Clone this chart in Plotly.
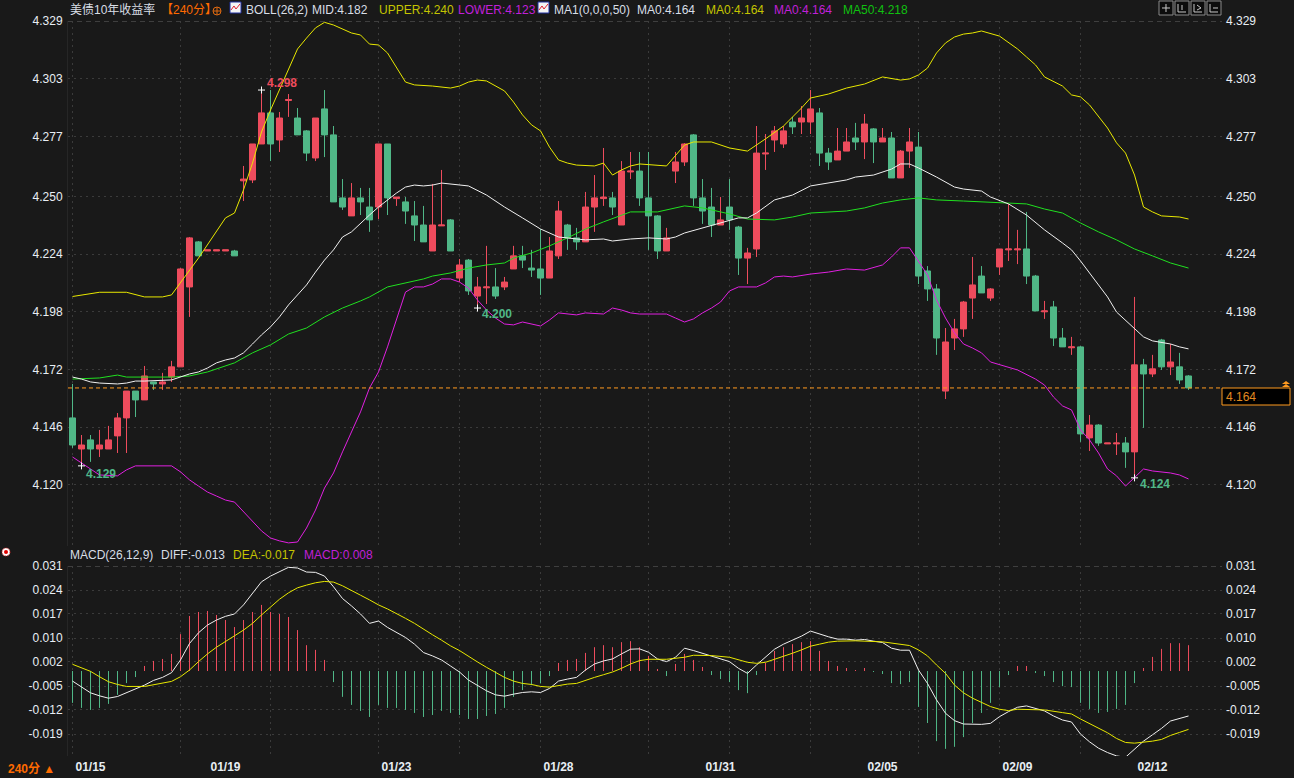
import plotly.graph_objects as go

WIDTH = 1294
HEIGHT = 778

BG = '#191919'
RED = '#ee4c5d'
GREEN = '#50b787'
GRID = '#3b3b3b'
ORANGE = '#ff9a1f'
AXIS_TEXT = '#e8eef4'

OPEN = [4.1502, 4.1362, 4.1403, 4.1362, 4.1362, 4.1421, 4.1502, 4.1623, 4.1583, 4.1664,
        4.1655, 4.1686, 4.1732, 4.2092, 4.2295, 4.2254, 4.2254, 4.2254, 4.2254, 4.2570,
        4.2574, 4.2736, 4.2876, 4.2754, 4.2932, 4.2853, 4.2795, 4.2673, 4.2894, 4.2777,
        4.2493, 4.2412, 4.2493, 4.2452, 4.2452, 4.2736, 4.2490, 4.2475, 4.2412, 4.2371,
        4.2254, 4.2367, 4.2394, 4.2132, 4.2213, 4.2051, 4.2088, 4.2092, 4.2092, 4.2173,
        4.2232, 4.2177, 4.2173, 4.2132, 4.2232, 4.2371, 4.2313, 4.2295, 4.2452, 4.2490,
        4.2493, 4.2371, 4.2610, 4.2614, 4.2493, 4.2412, 4.2254, 4.2614, 4.2655, 4.2777,
        4.2493, 4.2452, 4.2371, 4.2452, 4.2362, 4.2222, 4.2263, 4.2691, 4.2754, 4.2736,
        4.2835, 4.2835, 4.2835, 4.2876, 4.2695, 4.2664, 4.2704, 4.2763, 4.2745, 4.2804,
        4.2745, 4.2763, 4.2583, 4.2704, 4.2722, 4.2164, 4.2083, 4.1623, 4.1862, 4.1903,
        4.2042, 4.2141, 4.2042, 4.2182, 4.2259, 4.2259, 4.2263, 4.2141, 4.1980, 4.2002,
        4.1862, 4.1818, 4.1822, 4.1412, 4.1470, 4.1385, 4.1385, 4.1389, 4.1349, 4.1741,
        4.1700, 4.1853, 4.1732, 4.1732, 4.1691]
HIGH = [4.1655, 4.1425, 4.1425, 4.1448, 4.1466, 4.1524, 4.1623, 4.1623, 4.1736, 4.1664,
        4.1705, 4.1759, 4.2177, 4.2317, 4.2299, 4.2259, 4.2259, 4.2259, 4.2259, 4.2637,
        4.2736, 4.2979, 4.2979, 4.2880, 4.2961, 4.2898, 4.2799, 4.2853, 4.2979, 4.2817,
        4.2578, 4.2560, 4.2538, 4.2538, 4.2736, 4.2736, 4.2497, 4.2497, 4.2479, 4.2457,
        4.2556, 4.2619, 4.2398, 4.2218, 4.2218, 4.2137, 4.2277, 4.2177, 4.2137, 4.2277,
        4.2277, 4.2259, 4.2353, 4.2317, 4.2479, 4.2376, 4.2358, 4.2520, 4.2596, 4.2718,
        4.2520, 4.2659, 4.2700, 4.2700, 4.2700, 4.2416, 4.2358, 4.2700, 4.2740, 4.2781,
        4.2578, 4.2538, 4.2497, 4.2578, 4.2367, 4.2268, 4.2817, 4.2781, 4.2817, 4.2817,
        4.2858, 4.2907, 4.2979, 4.2898, 4.2718, 4.2808, 4.2808, 4.2831, 4.2871, 4.2808,
        4.2808, 4.2790, 4.2709, 4.2808, 4.2790, 4.2186, 4.2105, 4.1907, 4.1948, 4.2029,
        4.2227, 4.2186, 4.2087, 4.2263, 4.2466, 4.2349, 4.2430, 4.2146, 4.2029, 4.2029,
        4.1907, 4.1867, 4.1826, 4.1515, 4.1474, 4.1389, 4.1434, 4.1416, 4.2047, 4.1768,
        4.1786, 4.1858, 4.1835, 4.1795, 4.1695]
LOW = [4.1367, 4.1286, 4.1304, 4.1326, 4.1362, 4.1344, 4.1344, 4.1506, 4.1583, 4.1628,
       4.1628, 4.1664, 4.1732, 4.1957, 4.2232, 4.2254, 4.2254, 4.2254, 4.2232, 4.2479,
       4.2560, 4.2736, 4.2659, 4.2700, 4.2858, 4.2777, 4.2659, 4.2659, 4.2677, 4.2475,
       4.2439, 4.2412, 4.2416, 4.2340, 4.2398, 4.2416, 4.2457, 4.2376, 4.2299, 4.2295,
       4.2254, 4.2367, 4.2254, 4.2114, 4.2056, 4.1997, 4.2015, 4.2038, 4.2078, 4.2173,
       4.2177, 4.2137, 4.2056, 4.2132, 4.2218, 4.2259, 4.2259, 4.2295, 4.2340, 4.2457,
       4.2416, 4.2371, 4.2578, 4.2457, 4.2259, 4.2218, 4.2254, 4.2560, 4.2637, 4.2457,
       4.2376, 4.2317, 4.2371, 4.2349, 4.2146, 4.2105, 4.2227, 4.2619, 4.2700, 4.2718,
       4.2781, 4.2781, 4.2781, 4.2637, 4.2619, 4.2664, 4.2704, 4.2709, 4.2668, 4.2650,
       4.2745, 4.2583, 4.2583, 4.2628, 4.2105, 4.2029, 4.1786, 4.1587, 4.1808, 4.1867,
       4.1948, 4.2065, 4.2029, 4.2146, 4.2209, 4.2195, 4.2105, 4.1984, 4.1948, 4.1826,
       4.1822, 4.1786, 4.1394, 4.1353, 4.1376, 4.1385, 4.1335, 4.1277, 4.1232, 4.1457,
       4.1686, 4.1718, 4.1695, 4.1655, 4.1628]
CLOSE = [4.1380, 4.1380, 4.1362, 4.1380, 4.1403, 4.1502, 4.1623, 4.1583, 4.1691, 4.1655,
         4.1664, 4.1732, 4.2173, 4.2313, 4.2232, 4.2259, 4.2259, 4.2259, 4.2232, 4.2578,
         4.2736, 4.2876, 4.2736, 4.2853, 4.2936, 4.2777, 4.2695, 4.2853, 4.2777, 4.2475,
         4.2452, 4.2493, 4.2475, 4.2394, 4.2736, 4.2493, 4.2497, 4.2434, 4.2371, 4.2295,
         4.2371, 4.2371, 4.2254, 4.2191, 4.2074, 4.2092, 4.2092, 4.2051, 4.2114, 4.2232,
         4.2213, 4.2168, 4.2132, 4.2254, 4.2434, 4.2313, 4.2295, 4.2452, 4.2493, 4.2497,
         4.2452, 4.2614, 4.2614, 4.2493, 4.2412, 4.2254, 4.2313, 4.2655, 4.2736, 4.2493,
         4.2434, 4.2371, 4.2394, 4.2394, 4.2222, 4.2245, 4.2695, 4.2695, 4.2795, 4.2795,
         4.2813, 4.2853, 4.2894, 4.2695, 4.2655, 4.2704, 4.2745, 4.2745, 4.2826, 4.2745,
         4.2763, 4.2583, 4.2704, 4.2745, 4.2141, 4.2083, 4.1862, 4.1844, 4.1903, 4.2024,
         4.2101, 4.2065, 4.2083, 4.2263, 4.2263, 4.2263, 4.2141, 4.1984, 4.1984, 4.1862,
         4.1822, 4.1822, 4.1430, 4.1470, 4.1389, 4.1389, 4.1389, 4.1349, 4.1741, 4.1700,
         4.1723, 4.1732, 4.1754, 4.1673, 4.1637]

UPPER_BARS = [0, 3, 6, 8, 10, 11, 14, 17, 18, 19, 20, 21, 22, 24, 25, 26, 27, 28, 29, 31, 32, 33, 34,
              35, 36, 37, 38, 40, 42, 43, 44, 45, 46, 47, 48, 49, 50, 51, 52, 53, 54, 55, 56, 58, 59,
              60, 61, 62, 63, 66, 67, 68, 69, 71, 73, 75, 77, 79, 81, 82, 84, 86, 88, 90, 92, 93, 94,
              95, 96, 97, 98, 99, 100, 101, 103, 104, 105, 106, 107, 108, 110, 111, 112, 113, 114,
              115, 116, 117, 118, 119, 120, 121, 123, 124]
UPPER = [4.2049, 4.2068, 4.2068, 4.2047, 4.2047, 4.2056, 4.2222, 4.2403, 4.2425, 4.2529, 4.2650, 4.2790,
         4.2889, 4.3078, 4.3164, 4.3213, 4.3259, 4.3284, 4.3272, 4.3236, 4.3227, 4.3186, 4.3182,
         4.3146, 4.3083, 4.3015, 4.3002, 4.2997, 4.2988, 4.2997, 4.3015, 4.3024, 4.3020, 4.2997,
         4.2975, 4.2925, 4.2867, 4.2822, 4.2795, 4.2722, 4.2664, 4.2650, 4.2641, 4.2637, 4.2650,
         4.2596, 4.2619, 4.2637, 4.2646, 4.2637, 4.2686, 4.2731, 4.2745, 4.2745, 4.2718, 4.2704,
         4.2759, 4.2817, 4.2898, 4.2943, 4.2961, 4.2988, 4.3006, 4.3038, 4.3024, 4.3029, 4.3047,
         4.3078, 4.3146, 4.3191, 4.3218, 4.3231, 4.3236, 4.3245, 4.3222, 4.3195, 4.3164, 4.3128,
         4.3092, 4.3038, 4.2997, 4.2957, 4.2948, 4.2912, 4.2858, 4.2808, 4.2741, 4.2695, 4.2596,
         4.2452, 4.2430, 4.2412, 4.2407, 4.2398]

LOWER_BARS = [0, 1, 2, 3, 5, 6, 7, 11, 12, 13, 14, 15, 16, 17, 18, 19, 20, 21, 22, 23, 24, 25, 26, 27,
              28, 29, 30, 31, 32, 33, 34, 35, 36, 37, 38, 39, 40, 41, 42, 43, 44, 45, 46, 47, 48, 49,
              50, 51, 52, 53, 54, 56, 57, 59, 60, 61, 62, 63, 66, 67, 68, 69, 70, 71, 72, 73, 74, 76,
              77, 78, 79, 80, 82, 84, 86, 88, 90, 91, 92, 93, 94, 95, 96, 97, 98, 99, 100, 101, 102,
              103, 105, 107, 108, 109, 110, 111, 112, 113, 114, 115, 116, 117, 118, 119, 120, 122,
              123, 124]
LOWER = [4.1326, 4.1299, 4.1272, 4.1245, 4.1241, 4.1268, 4.1286, 4.1286, 4.1259, 4.1223, 4.1195, 4.1168,
         4.1150, 4.1132, 4.1123, 4.1078, 4.1033, 4.0993, 4.0961, 4.0948, 4.0939, 4.0943, 4.1006,
         4.1087, 4.1186, 4.1254, 4.1349, 4.1439, 4.1529, 4.1637, 4.1709, 4.1822, 4.1943, 4.2069,
         4.2092, 4.2092, 4.2105, 4.2128, 4.2128, 4.2114, 4.2087, 4.2033, 4.1988, 4.1952, 4.1925,
         4.1921, 4.1934, 4.1925, 4.1916, 4.1943, 4.1975, 4.1966, 4.1975, 4.1970, 4.1997, 4.1988,
         4.1975, 4.1970, 4.1970, 4.1952, 4.1934, 4.1948, 4.1975, 4.1997, 4.2024, 4.2074, 4.2092,
         4.2092, 4.2110, 4.2137, 4.2141, 4.2137, 4.2150, 4.2159, 4.2173, 4.2168, 4.2191, 4.2227,
         4.2268, 4.2268, 4.2204, 4.2146, 4.2033, 4.1952, 4.1885, 4.1835, 4.1817, 4.1795, 4.1754,
         4.1741, 4.1718, 4.1677, 4.1650, 4.1596, 4.1556, 4.1538, 4.1448, 4.1403, 4.1344, 4.1272,
         4.1241, 4.1195, 4.1232, 4.1272, 4.1263, 4.1254, 4.1245, 4.1227]

MID_BARS = [0, 1, 2, 3, 5, 6, 7, 8, 11, 12, 13, 14, 15, 16, 17, 18, 19, 20, 21, 22, 23, 24, 25, 26, 27,
            28, 29, 30, 31, 32, 33, 34, 35, 36, 37, 38, 39, 40, 41, 42, 44, 46, 48, 50, 52, 54, 55, 57,
            59, 60, 62, 64, 66, 67, 68, 70, 72, 74, 75, 76, 78, 80, 82, 84, 86, 87, 89, 91, 92, 93,
            94, 96, 98, 99, 101, 102, 104, 106, 108, 110, 111, 112, 113, 114, 115, 116, 117, 118,
            119, 120, 122, 123, 124]
MID = [4.1686, 4.1677, 4.1664, 4.1659, 4.1655, 4.1659, 4.1668, 4.1668, 4.1673, 4.1686, 4.1700, 4.1709,
       4.1727, 4.1750, 4.1763, 4.1772, 4.1795, 4.1835, 4.1876, 4.1912, 4.1957, 4.2011, 4.2056,
       4.2101, 4.2159, 4.2213, 4.2259, 4.2317, 4.2340, 4.2380, 4.2416, 4.2452, 4.2484, 4.2515,
       4.2542, 4.2551, 4.2547, 4.2551, 4.2560, 4.2556, 4.2547, 4.2506, 4.2452, 4.2403, 4.2353,
       4.2317, 4.2313, 4.2304, 4.2308, 4.2299, 4.2308, 4.2313, 4.2308, 4.2317, 4.2335, 4.2358,
       4.2380, 4.2403, 4.2403, 4.2425, 4.2484, 4.2506, 4.2547, 4.2560, 4.2574, 4.2587, 4.2596,
       4.2623, 4.2646, 4.2646, 4.2628, 4.2587, 4.2542, 4.2533, 4.2524, 4.2497, 4.2466, 4.2416,
       4.2349, 4.2290, 4.2259, 4.2209, 4.2155, 4.2101, 4.2047, 4.1979, 4.1943, 4.1907, 4.1867,
       4.1849, 4.1835, 4.1822, 4.1813]

MA50_BARS = [0, 3, 5, 6, 11, 13, 15, 17, 18, 20, 22, 24, 26, 28, 30, 32, 33, 35, 37, 39, 40, 42, 44, 46,
             48, 49, 51, 53, 55, 57, 59, 61, 62, 65, 68, 70, 73, 75, 78, 80, 82, 86, 88, 90, 92, 94,
             96, 99, 103, 106, 108, 110, 112, 114, 116, 118, 120, 122, 124]
MA50 = [4.1677, 4.1682, 4.1695, 4.1686, 4.1686, 4.1691, 4.1709, 4.1736, 4.1750, 4.1795, 4.1831, 4.1880,
        4.1907, 4.1957, 4.1997, 4.2029, 4.2047, 4.2092, 4.2110, 4.2128, 4.2141, 4.2155, 4.2177,
        4.2191, 4.2200, 4.2222, 4.2245, 4.2277, 4.2313, 4.2353, 4.2385, 4.2416, 4.2430, 4.2430,
        4.2457, 4.2448, 4.2421, 4.2398, 4.2394, 4.2407, 4.2425, 4.2434, 4.2448, 4.2470, 4.2484,
        4.2493, 4.2484, 4.2479, 4.2470, 4.2466, 4.2443, 4.2425, 4.2380, 4.2340, 4.2304, 4.2263,
        4.2232, 4.2200, 4.2177]

MACD_HIST = [-.0095, -.0110, -.0116, -.0110, -.0098, -.0071, -.0036, -.0018, .0015, .0030,
             .0036, .0051, .0110, .0164, .0176, .0179, .0167, .0152, .0131, .0152,
             .0176, .0197, .0176, .0170, .0161, .0122, .0077, .0063, .0033, -.0033,
             -.0077, -.0101, -.0119, -.0137, -.0101, -.0110, -.0110, -.0116, -.0125, -.0137,
             -.0131, -.0119, -.0125, -.0131, -.0143, -.0143, -.0134, -.0128, -.0110, -.0077,
             -.0057, -.0042, -.0037, -.0015, .0024, .0033, .0036, .0054, .0071, .0077,
             .0071, .0086, .0089, .0071, .0045, .0006, -.0015, .0021, .0051, .0033,
             .0012, -.0012, -.0024, -.0033, -.0057, -.0066, -.0012, .0024, .0060, .0071,
             .0080, .0086, .0089, .0060, .0030, .0015, .0009, .0003, .0009, -.0003,
             -.0009, -.0036, -.0039, -.0033, -.0107, -.0155, -.0209, -.0232, -.0226, -.0197,
             -.0155, -.0125, -.0095, -.0048, -.0012, .0015, .0015, -.0006, -.0015, -.0033,
             -.0045, -.0048, -.0095, -.0113, -.0125, -.0122, -.0113, -.0101, -.0036, .0009,
             .0042, .0066, .0083, .0083, .0077]
DIFF = [-.0030, -.0047, -.0065, -.0074, -.0081, -.0076, -.0065, -.0054, -.0042, -.0028,
        -.0019, -.0005, .0033, .0082, .0114, .0137, .0152, .0163, .0170, .0197,
        .0233, .0266, .0283, .0296, .0309, .0307, .0295, .0294, .0283, .0251,
        .0216, .0194, .0170, .0142, .0149, .0130, .0114, .0100, .0080, .0055,
        .0045, .0033, .0015, -.0003, -.0027, -.0044, -.0059, -.0071, -.0075, -.0069,
        -.0064, -.0062, -.0064, -.0052, -.0030, -.0024, -.0019, .0003, .0021, .0030,
        .0036, .0051, .0065, .0066, .0056, .0036, .0028, .0041, .0068, .0061,
        .0053, .0043, .0035, .0028, .0008, -.0007, .0018, .0041, .0065, .0080,
        .0092, .0104, .0119, .0110, .0102, .0095, .0095, .0092, .0094, .0089,
        .0085, .0068, .0062, .0062, .0003, -.0037, -.0086, -.0126, -.0148, -.0158,
        -.0159, -.0159, -.0156, -.0136, -.0121, -.0108, -.0104, -.0111, -.0119, -.0134,
        -.0146, -.0152, -.0188, -.0211, -.0230, -.0243, -.0253, -.0257, -.0233, -.0209,
        -.0190, -.0171, -.0149, -.0141, -.0134]
DEA_BARS = [0, 1, 2, 3, 4, 5, 6, 8, 9, 10, 11, 12, 13, 14, 15, 16, 17, 18, 19, 20, 21, 22, 23, 24, 25,
            26, 27, 28, 29, 30, 31, 32, 33, 34, 35, 36, 37, 38, 39, 40, 41, 42, 43, 44, 45, 46, 47,
            48, 49, 50, 51, 52, 53, 54, 55, 56, 57, 58, 59, 60, 61, 62, 63, 64, 66, 67, 68, 69, 71,
            73, 74, 75, 76, 77, 78, 79, 80, 81, 82, 83, 84, 85, 87, 90, 91, 92, 93, 94, 95, 96, 97,
            98, 99, 100, 101, 102, 103, 104, 105, 107, 108, 110, 111, 112, 113, 114, 115, 116, 117,
            118, 119, 120, 121, 122, 123, 124]
DEA = [.0020, .0009, -.0001, -.0017, -.0032, -.0040, -.0046, -.0046, -.0041, -.0037, -.0031, -.0017,
       .0003, .0028, .0051, .0071, .0087, .0105, .0122, .0142, .0167, .0192, .0214, .0233, .0248,
       .0256, .0263, .0267, .0265, .0254, .0241, .0226, .0212, .0197, .0185, .0172, .0157, .0142,
       .0124, .0108, .0092, .0075, .0061, .0043, .0027, .0011, -.0005, -.0019, -.0030, -.0037,
       -.0040, -.0046, -.0048, -.0043, -.0039, -.0037, -.0027, -.0019, -.0011, -.0003, .0008,
       .0021, .0031, .0035, .0035, .0037, .0041, .0047, .0046, .0041, .0033, .0026, .0023, .0026,
       .0035, .0043, .0053, .0063, .0074, .0080, .0086, .0089, .0090, .0087, .0083, .0079, .0076,
       .0063, .0045, .0018, -.0007, -.0042, -.0065, -.0081, -.0094, -.0106, -.0114, -.0118, -.0114,
       -.0114, -.0116, -.0124, -.0128, -.0143, -.0156, -.0169, -.0184, -.0201, -.0213, -.0215,
       -.0213, -.0209, -.0204, -.0192, -.0183, -.0174]

LAST_PRICE = 4.1637
BARS = list(range(len(OPEN)))

PRICE_TICKS = [4.329, 4.303, 4.277, 4.250, 4.224, 4.198, 4.172, 4.146, 4.120]
PRICE_LABELS = ['4.329', '4.303', '4.277', '4.250', '4.224', '4.198', '4.172', '4.146', '4.120']
MACD_TICKS = [.0313, .0241, .0170, .0098, .0027, -.0045, -.0116, -.0188]
MACD_LABELS = ['0.031', '0.024', '0.017', '0.010', '0.002', '-0.005', '-0.012', '-0.019']
DATE_BARS = [2, 17, 36, 54, 72, 90, 105, 120]
DATE_LABELS = ['01/15', '01/19', '01/23', '01/28', '01/31', '02/05', '02/09', '02/12']
GRID_BARS = [0, 12, 22, 34, 43, 52, 64, 73, 82, 94, 103, 112]

# low/high markers with their text, (bar, price) of the cross and of the label
EXTREMES = [(21, 4.2979, 23.3, 4.3010, '4.298', RED),
            (1, 4.1286, 3.2, 4.1250, '4.129', GREEN),
            (45, 4.1997, 47.2, 4.1970, '4.200', GREEN),
            (118, 4.1232, 120.3, 4.1205, '4.124', GREEN)]

TITLE_ROW = [(69, '美债10年收益率', '#d8dee6'), (160, '【240分】', '#ff6a00'), (245, 'BOLL(26,2)', '#d8dee6'),
             (311, 'MID:4.182', '#d8dee6'), (378, 'UPPER:4.240', '#c4c400'), (457, 'LOWER:4.123', '#c020d8'),
             (553, 'MA1(0,0,0,50)', '#d8dee6'), (636, 'MA0:4.164', '#d8dee6'), (705, 'MA0:4.164', '#c4c400'),
             (773, 'MA0:4.164', '#c020d8'), (842, 'MA50:4.218', '#10c010')]
MACD_ROW = [(69, 'MACD(26,12,9)', '#d8dee6'), (160, 'DIFF:-0.013', '#d8dee6'), (232, 'DEA:-0.017', '#c4c400'),
            (303, 'MACD:0.008', '#c020d8')]

FONT = 'Liberation Sans, Arial, Noto Sans CJK SC'


def px(x):
    return x / WIDTH


def py(y):
    return 1 - y / HEIGHT


def label(x, y, text, color, size=12, bold=False):
    return dict(x=px(x), y=py(y), xref='paper', yref='paper', text=text, showarrow=False,
                xanchor='left', yanchor='middle', borderpad=0,
                font=dict(family=FONT, size=size, color=color, weight=700 if bold else 400))


def pane_path(x0, y0, points):
    # small glyph inside an icon, points are pixels relative to the icon corner
    path = ''
    for n, (a, b) in enumerate(points):
        path += ('M' if n == 0 else 'L') + f' {px(x0 + a):.5f} {py(y0 + b):.5f} '
    return path


def icon_shapes():
    shapes = []
    # small chart icons in the header
    for x0 in (230, 538):
        shapes.append(dict(type='rect', xref='paper', yref='paper', x0=px(x0), x1=px(x0 + 11),
                           y0=py(2), y1=py(13), fillcolor='#f4f4f4', line=dict(color='#2030a0', width=1)))
        shapes.append(dict(type='path', xref='paper', yref='paper', line=dict(color='#e02030', width=1),
                           path=pane_path(x0, 2, [(1, 8), (4, 4), (6, 7), (10, 2)])))
    # the round mark in the header
    shapes.append(dict(type='circle', xref='paper', yref='paper', x0=px(213), x1=px(221), y0=py(7), y1=py(15),
                       line=dict(color='#e06a10', width=1)))
    shapes.append(dict(type='path', xref='paper', yref='paper', line=dict(color='#e06a10', width=1),
                       path=pane_path(213, 7, [(0, 4), (8, 4)]) + pane_path(213, 7, [(4, 0), (4, 8)])))
    # four buttons top right
    glyphs = [[(3, 7), (11, 7)], [(3, 3), (3, 11), (11, 11)], [(3, 3), (3, 11), (11, 11)], [(3, 3), (3, 11), (11, 11)]]
    inner = [[(7, 3), (7, 11)], [(7, 4), (7, 9)], [(6, 4), (10, 7), (6, 9)], [(6, 7), (11, 7)]]
    for n, x0 in enumerate((1159, 1175, 1191, 1207)):
        shapes.append(dict(type='rect', xref='paper', yref='paper', x0=px(x0), x1=px(x0 + 14), y0=py(1), y1=py(15),
                           fillcolor='#0c0c0c', line=dict(color='#8a8a8a', width=1)))
        shapes.append(dict(type='path', xref='paper', yref='paper', line=dict(color='#c8c8c8', width=1),
                           path=pane_path(x0, 1, glyphs[n]) + pane_path(x0, 1, inner[n])))
    # dashed top edge of both panes
    for y in (21.5, 566.5):
        shapes.append(dict(type='line', xref='paper', yref='paper', x0=px(68), x1=px(1222), y0=py(y), y1=py(y),
                           line=dict(color='#3f3f3f', width=1, dash='5px,4px')))
    # box for the last price and the arrows above it
    shapes.append(dict(type='rect', xref='paper', yref='paper', x0=px(1222), x1=px(1290), y0=py(388), y1=py(405),
                       fillcolor='#000000', line=dict(color=ORANGE, width=1)))
    for y in (381, 384):
        shapes.append(dict(type='path', xref='paper', yref='paper', fillcolor=ORANGE, line=dict(color=ORANGE, width=0),
                           path=pane_path(1282, y, [(0, 3), (4, 0), (8, 3)]) + 'Z'))
    # red and white dot on the left edge
    shapes.append(dict(type='circle', xref='paper', yref='paper', x0=px(2), x1=px(10), y0=py(548), y1=py(556),
                       fillcolor='#ffffff', line=dict(color='#e02020', width=1, dash='1px,1px')))
    shapes.append(dict(type='circle', xref='paper', yref='paper', x0=px(4), x1=px(8), y0=py(550), y1=py(554),
                       fillcolor='#e00000', line=dict(width=0)))
    return shapes


def price_traces():
    traces = [go.Candlestick(x=BARS, open=OPEN, high=HIGH, low=LOW, close=CLOSE, xaxis='x2', yaxis='y2',
                             whiskerwidth=0, showlegend=False,
                             increasing=dict(line=dict(color=RED, width=1), fillcolor=RED),
                             decreasing=dict(line=dict(color=GREEN, width=1), fillcolor=GREEN))]
    for bars, values, color in [(UPPER_BARS, UPPER, '#e8e800'), (LOWER_BARS, LOWER, '#e020e0'),
                                (MA50_BARS, MA50, '#20e020'), (MID_BARS, MID, '#f0f0f0')]:
        traces.append(go.Scatter(x=bars, y=values, mode='lines', xaxis='x2', yaxis='y2', showlegend=False,
                                 line=dict(color=color, width=1)))
    # last price line, on the right hand axis so that this axis gets drawn
    traces.append(go.Scatter(x=[-0.5, 127.72], y=[LAST_PRICE, LAST_PRICE], mode='lines', xaxis='x2', yaxis='y3',
                             showlegend=False, line=dict(color=ORANGE, width=1, dash='4px,3px')))
    traces.append(go.Scatter(x=[e[0] for e in EXTREMES], y=[e[1] for e in EXTREMES], mode='markers',
                             xaxis='x2', yaxis='y2', showlegend=False,
                             marker=dict(symbol='cross-thin', size=5, line=dict(color='#ffffff', width=1))))
    return traces


def stems(bars, values):
    # one vertical line per bar, split by None so one trace can hold them all
    xs, ys = [], []
    for bar, value in zip(bars, values):
        xs += [bar, bar, None]
        ys += [0, value, None]
    return xs, ys


def macd_traces():
    traces = []
    for color, keep in [(RED, lambda v: v >= 0), (GREEN, lambda v: v < 0)]:
        bars = [b for b in BARS if keep(MACD_HIST[b])]
        xs, ys = stems(bars, [MACD_HIST[b] for b in bars])
        traces.append(go.Scatter(x=xs, y=ys, mode='lines', xaxis='x', yaxis='y', showlegend=False,
                                 line=dict(color=color, width=1)))
    traces.append(go.Scatter(x=BARS, y=DIFF, mode='lines', xaxis='x', yaxis='y', showlegend=False,
                             line=dict(color='#f0f0f0', width=1)))
    traces.append(go.Scatter(x=DEA_BARS, y=DEA, mode='lines', xaxis='x', yaxis='y4', showlegend=False,
                             line=dict(color='#e8e800', width=1)))
    return traces


def main():
    fig = go.Figure(price_traces() + macd_traces())

    x_range = [-0.5, 127.72]
    x_domain = [px(68), px(1222)]
    price_range = [4.0925, 4.329]
    macd_range = [-0.02533, 0.0313]
    price_domain = [py(546), py(21)]
    macd_domain = [py(756), py(566)]
    grid = dict(showgrid=True, gridcolor=GRID, griddash='2px,4px', gridwidth=1)
    tick_font = dict(family=FONT, size=12, color=AXIS_TEXT)
    minor = dict(tickmode='array', tickvals=GRID_BARS, ticklen=0, **grid)

    annotations = [label(x, 9.5, text, color) for x, text, color in TITLE_ROW]
    annotations += [label(x, 555, text, color) for x, text, color in MACD_ROW]
    annotations.append(label(1225, 397, '4.164', '#e08a20'))
    annotations.append(label(7, 769, '240分 ▲', '#ff6a00', bold=True))
    for bar, price, text_bar, text_price, text, color in EXTREMES:
        annotations.append(dict(x=text_bar, y=text_price, xref='x2', yref='y2', text=text, showarrow=False,
                                font=dict(family=FONT, size=12, color=color, weight=700)))

    fig.update_layout(
        width=WIDTH,
        height=HEIGHT,
        margin=dict(l=0, r=0, t=0, b=0),
        paper_bgcolor=BG,
        plot_bgcolor=BG,
        showlegend=False,
        boxgap=0,
        boxgroupgap=1 / 3,
        shapes=icon_shapes(),
        annotations=annotations,
        xaxis=dict(domain=x_domain, range=x_range, anchor='y', tickmode='array', tickvals=DATE_BARS,
                   ticktext=DATE_LABELS, showgrid=False, zeroline=False, ticks='', minor=minor, automargin=False,
                   ticklabelstandoff=2, tickfont=dict(family=FONT, size=12, color=AXIS_TEXT, weight=700)),
        xaxis2=dict(domain=x_domain, range=x_range, anchor='y2', showticklabels=False, showgrid=False,
                    zeroline=False, ticks='', minor=minor, automargin=False, rangeslider=dict(visible=False)),
        yaxis=dict(domain=macd_domain, range=macd_range, anchor='x', tickmode='array', tickvals=MACD_TICKS,
                   ticktext=MACD_LABELS, zeroline=False, ticks='', tickfont=tick_font, showline=True,
                   linecolor='#262626', automargin=False, ticklabelstandoff=2, **grid),
        yaxis2=dict(domain=price_domain, range=price_range, anchor='x2', tickmode='array', tickvals=PRICE_TICKS,
                    ticktext=PRICE_LABELS, zeroline=False, ticks='', tickfont=tick_font, showline=True,
                    linecolor='#262626', automargin=False, ticklabelstandoff=2, **grid),
        yaxis3=dict(overlaying='y2', side='right', anchor='x2', range=price_range, tickmode='array',
                    tickvals=PRICE_TICKS, ticktext=PRICE_LABELS, zeroline=False, ticks='', showgrid=False,
                    automargin=False, ticklabelstandoff=3, tickfont=tick_font),
        yaxis4=dict(overlaying='y', side='right', anchor='x', range=macd_range, tickmode='array',
                    tickvals=MACD_TICKS, ticktext=MACD_LABELS, zeroline=False, ticks='', showgrid=False,
                    automargin=False, ticklabelstandoff=3, tickfont=tick_font),
    )

    fig.write_html('out.html', config=dict(displayModeBar=False),
                   post_script="document.body.style.margin='0';document.body.style.overflow='hidden';"
                               "document.body.style.background='#191919';")


if __name__ == '__main__':
    main()
